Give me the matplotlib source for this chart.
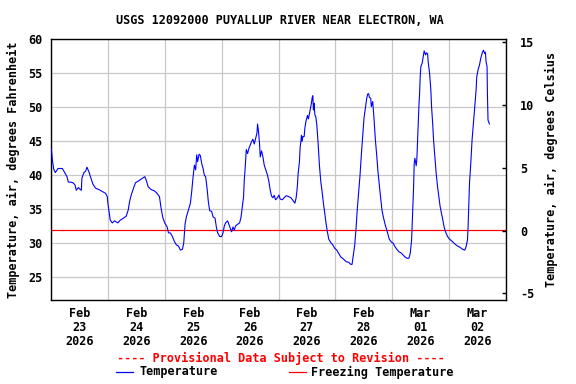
import numpy as np
import matplotlib
matplotlib.use("Agg")
import matplotlib.pyplot as plt
import matplotlib.dates as mdates
from datetime import datetime, timedelta

# ---- data (hours since 2026-02-23 00:00, temperature in deg F) ----
hours = [0.17, 0.59, 1.14, 1.85, 2.95, 4.80, 5.77, 6.74, 7.33, 8.17, 9.26, 10.11, 10.69, 11.54,
         12.38, 12.80, 13.05, 13.89, 14.61, 15.16, 16.0, 16.84, 17.68, 18.82, 20.21, 21.22, 22.19,
         23.03, 23.75, 24.0, 24.42, 25.01, 25.85, 26.82, 28.21, 29.22, 30.61, 31.75, 32.59, 33.14,
         33.85, 34.82, 35.66, 37.05, 38.48, 39.58, 40.17, 41.01, 42.27, 43.66, 44.63, 45.77, 46.48,
         47.16, 48.0, 49.01, 49.56, 50.40, 51.24, 52.08, 52.93, 53.77, 54.61, 55.45, 56.0, 56.59,
         57.14, 57.98, 58.82, 59.37, 59.96, 60.51, 61.05, 61.47, 61.89, 62.48, 63.03, 63.58, 64.17,
         64.72, 65.26, 65.85, 66.40, 66.95, 67.79, 68.38, 69.22, 69.77, 70.32, 71.16, 72.0, 72.59,
         73.14, 73.68, 74.53, 75.12, 75.66, 76.21, 76.80, 77.35, 77.89, 78.74, 79.58, 80.17, 80.72,
         81.26, 81.56, 81.98, 82.40, 82.95, 83.54, 84.08, 84.63, 85.22, 85.77, 86.32, 86.91, 87.16,
         87.58, 88.0, 88.29, 88.84, 89.43, 89.98, 90.53, 91.37, 91.96, 92.51, 93.05, 93.64, 94.19,
         94.74, 95.58, 96.17, 96.72, 97.56, 98.40, 99.25, 100.09, 101.22, 102.32, 102.91, 103.45,
         103.75, 104.0, 104.29, 104.84, 105.14, 105.43, 105.68, 105.98, 106.27, 106.82, 107.12,
         107.54, 107.96, 108.21, 108.63, 109.05, 109.35, 109.64, 109.89, 110.19, 110.48, 110.74,
         111.03, 111.33, 111.75, 112.17, 112.72, 113.26, 113.85, 114.40, 114.95, 115.54, 116.08,
         116.63, 117.22, 118.06, 118.91, 119.75, 120.59, 121.43, 122.27, 123.37, 124.50, 125.64,
         126.48, 127.03, 127.58, 128.17, 128.72, 129.26, 129.85, 130.40, 130.95, 131.54, 132.08,
         132.63, 133.22, 133.64, 134.06, 134.32, 134.91, 135.16, 135.75, 136.29, 136.84, 137.43,
         137.98, 138.53, 139.12, 139.66, 140.21, 141.05, 141.89, 142.74, 143.58, 144.42, 145.14,
         145.98, 146.82, 147.66, 148.51, 149.35, 150.19, 151.03, 151.58, 152.17, 152.42, 152.72,
         153.01, 153.26, 153.56, 154.11, 154.40, 154.69, 154.95, 155.24, 155.54, 155.79, 156.08,
         156.63, 157.05, 157.47, 158.06, 158.48, 158.91, 159.16, 159.75, 160.29, 160.59, 161.14,
         161.43, 161.98, 162.53, 163.12, 163.66, 164.21, 164.80, 165.35, 165.89, 166.48, 167.33,
         168.17, 169.26, 170.40, 171.54, 172.63, 173.77, 174.61, 175.16, 175.75, 176.0, 176.29,
         176.59, 177.14, 177.68, 178.27, 178.82, 179.37, 179.66, 180.21, 180.80, 181.35, 181.89,
         182.48, 183.03, 183.33, 183.58, 184.0, 184.17, 184.42, 185.01]
temps_f = [43.8, 42.25, 40.9, 40.4, 41.0, 41.0, 40.4, 39.8, 39.0, 39.0, 38.9, 38.6, 37.8, 38.2,
           37.9, 37.8, 39.6, 40.4, 40.6, 41.2, 40.5, 39.6, 38.7, 38.1, 37.9, 37.7, 37.5,
           37.35, 36.85, 35.9, 34.9, 33.4, 33.0, 33.3, 33.0, 33.4, 33.7, 34.0, 34.9, 36.1,
           37.1, 38.1, 38.9, 39.2, 39.55, 39.8, 39.3, 38.3, 37.9, 37.7, 37.4, 36.85, 35.1,
           33.8, 33.0, 32.4, 31.55, 31.5, 31.0, 30.25, 29.75, 29.6, 29.0, 29.1, 30.0, 32.9,
           33.9, 34.9, 35.9, 37.6, 39.8, 41.5, 40.8, 43.0, 42.0, 43.1, 42.9, 41.75, 41.0,
           40.0, 39.8, 38.1, 36.1, 34.8, 34.7, 33.9, 33.7, 32.4, 31.55, 31.0, 31.0, 31.55,
           32.55, 33.0, 33.3, 32.7, 32.2, 31.7, 32.4, 31.95, 32.55, 32.8, 33.0, 33.8, 35.4,
           36.85, 39.3, 41.3, 43.8, 43.2, 44.0, 44.45, 44.95, 45.3, 44.6, 45.4, 46.2, 47.55,
           46.4, 44.6, 42.7, 43.6, 42.7, 41.5, 40.9, 40.0, 39.05, 37.8, 36.95, 36.7, 37.05,
           36.4, 36.7, 37.1, 36.5, 36.4, 36.7, 37.0, 36.9, 36.7, 36.2, 35.9, 36.7,
           37.6, 38.6, 40.3, 42.0, 44.2, 44.9, 45.9, 45.0, 45.7, 45.7, 46.9,
           47.9, 48.4, 48.8, 48.3, 49.1, 49.6, 50.1, 50.6, 51.4, 51.7, 49.6,
           50.6, 48.9, 48.6, 47.4, 44.7, 41.5, 39.05, 37.6, 35.9, 34.4, 32.9,
           31.7, 30.6, 30.1, 29.75, 29.25, 29.0, 28.5, 28.0, 27.7, 27.3, 27.2,
           26.9, 26.9, 28.3, 29.75, 32.2, 35.1, 37.6, 40.0, 43.0, 45.9, 48.4,
           49.85, 51.3, 51.95, 52.0, 51.5, 51.3, 50.1, 50.85, 48.4, 45.4, 43.0,
           40.5, 38.6, 36.6, 34.9, 33.9, 32.7, 31.7, 30.6, 30.2, 30.0, 29.5,
           29.1, 28.75, 28.6, 28.3, 28.0, 27.8, 27.8, 28.5, 30.5, 32.9, 35.4,
           38.3, 41.75, 42.5, 41.4, 42.5, 45.2, 47.65, 50.1, 52.05, 54.5, 56.0,
           56.5, 57.45, 58.3, 57.7, 58.0, 57.9, 56.7, 55.0, 52.5, 50.1, 47.15,
           45.2, 42.7, 40.3, 38.3, 36.85, 35.4, 34.4, 33.4, 32.4, 31.7, 31.0,
           30.6, 30.3, 29.9, 29.6, 29.4, 29.1, 29.0, 29.5, 30.5, 32.4, 35.4,
           38.8, 41.75, 45.2, 47.65, 50.1, 52.5, 54.5, 55.5, 56.2, 57.2, 57.9,
           58.4, 57.9, 58.1, 56.7, 56.0, 51.8, 48.1, 47.55]
freezing_f = 32.0
day_labels = ["Feb\n23\n2026", "Feb\n24\n2026", "Feb\n25\n2026", "Feb\n26\n2026",
              "Feb\n27\n2026", "Feb\n28\n2026", "Mar\n01\n2026", "Mar\n02\n2026"]
left_ticks = [25, 30, 35, 40, 45, 50, 55, 60]
right_ticks = [-5, 0, 5, 10, 15]

title = "USGS 12092000 PUYALLUP RIVER NEAR ELECTRON, WA"

# ---- plot ----
FONT = "DejaVu Sans Mono"
FS = 8.5
plt.rcParams['font.family'] = [FONT]
plt.rcParams['font.weight'] = 'bold'

start = datetime(2026, 2, 23)
times = [start + timedelta(hours=h) for h in hours]

fig = plt.figure(figsize=(5.76, 3.84), dpi=100)
ax = fig.add_axes([51 / 576, 1 - 300 / 384, 455 / 576, (300 - 39.3) / 384])

ax.plot(times, temps_f, color="#0000ff", lw=0.8, zorder=3)
ax.axhline(freezing_f, color="#ff0000", lw=0.9, zorder=2)

ax.set_xlim(start, start + timedelta(days=8))
ax.set_ylim(21.66, 60)
ax.set_yticks(left_ticks)
ax.set_yticklabels([str(t) for t in left_ticks], fontsize=FS, fontweight='bold')

# day boundaries for grid, noon for labels
ax.set_xticks([start + timedelta(days=d) for d in range(9)], minor=False)
ax.set_xticklabels([""] * 9)
ax.set_xticks([start + timedelta(days=d, hours=12) for d in range(8)], minor=True)
ax.set_xticklabels(day_labels, minor=True, fontsize=FS, fontweight='bold', linespacing=1.1)
ax.tick_params(axis='x', which='both', length=0)
ax.tick_params(axis='x', which='minor', pad=5)
ax.tick_params(axis='y', length=0, pad=6)
ax.grid(True, which='major', color="#c8c8c8", lw=0.9)
ax.set_axisbelow(True)
for s in ax.spines.values():
    s.set_color("black")
    s.set_linewidth(1.0)

ax.set_ylabel("Temperature, air, degrees Fahrenheit", fontsize=FS, fontweight='bold', labelpad=6)

ax2 = ax.twinx()
ax2.set_ylim(-5.53, 15.24)
ax2.set_yticks(right_ticks)
ax2.set_yticklabels([str(t) for t in right_ticks], fontsize=FS, fontweight='bold')
ax2.tick_params(axis='y', direction='in', length=3, width=1, pad=10)
ax2.set_ylabel("Temperature, air, degrees Celsius", fontsize=FS, fontweight='bold', labelpad=8)
for s in ax2.spines.values():
    s.set_visible(False)

fig.text(280 / 576, 1 - 20 / 384, title, ha='center', va='center', fontsize=FS, fontweight='bold')
fig.text(281 / 576, 1 - 358 / 384, "---- Provisional Data Subject to Revision ----",
         ha='center', va='center', fontsize=FS, fontweight='bold', color="#ff0000")

# legend
ly = 1 - 372 / 384
fig.add_artist(plt.Line2D([115.5 / 576, 133 / 576], [ly, ly], color="#0000ff", lw=0.9))
fig.text(139 / 576, ly, "Temperature", ha='left', va='center', fontsize=FS, fontweight='bold')
fig.add_artist(plt.Line2D([288.5 / 576, 306 / 576], [ly, ly], color="#ff0000", lw=0.9))
fig.text(311 / 576, ly, "Freezing Temperature", ha='left', va='center', fontsize=FS, fontweight='bold')

fig.savefig("out.png", dpi=100)
